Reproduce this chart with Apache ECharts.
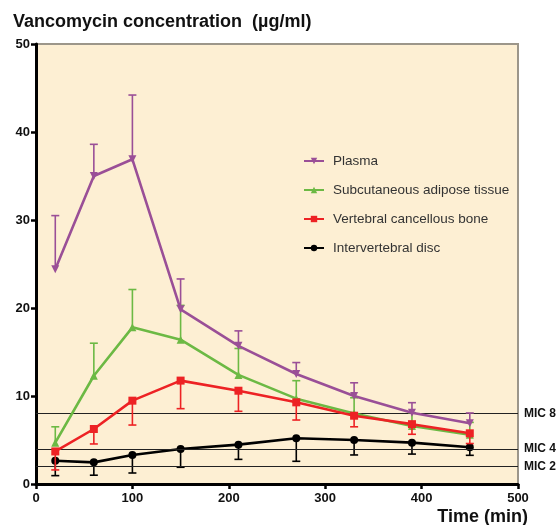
<!DOCTYPE html>
<html>
<head>
<meta charset="utf-8">
<script src="https://cdn.jsdelivr.net/npm/echarts@6/dist/echarts.min.js"></script>
<style>html,body{margin:0;padding:0;background:#fff}#c{width:558px;height:525px}</style>
</head>
<body>
<div id="c"></div>
<script>
const times = [20, 60, 100, 150, 210, 270, 330, 390, 450];
const plasma = [24.4, 35.0, 36.9, 19.85, 15.7, 12.5, 10.0, 8.1, 6.9];
const plasmaErrTop = [30.5, 38.6, 44.2, 23.3, 17.4, 13.8, 11.5, 9.24, 8.07];
const adipose = [4.7, 12.3, 17.8, 16.4, 12.4, 9.7, 8.0, 6.6, 5.6];
const adiposeErrTop = [6.5, 16.0, 22.1, 20.3, 15.4, 11.74, 9.8, 8.1, 7.0];
const bone = [3.7, 6.25, 9.47, 11.75, 10.6, 9.28, 7.76, 6.8, 5.76];
const boneErrBottom = [1.6, 4.55, 6.7, 8.56, 8.26, 7.27, 6.5, 5.65, 4.6];
const disc = [2.65, 2.46, 3.3, 3.98, 4.47, 5.2, 5.0, 4.7, 4.17];
const discErrBottom = [0.95, 1.0, 1.25, 1.9, 2.8, 2.58, 3.3, 3.4, 3.26];
const micValues = [8, 4, 2];
const micLabels = ['MIC 8', 'MIC 4', 'MIC 2'];
const seriesNames = ['Plasma', 'Subcutaneous adipose tissue', 'Vertebral cancellous bone', 'Intervertebral disc'];
const xTicks = [0, 100, 200, 300, 400, 500];
const yTicks = [0, 10, 20, 30, 40, 50];

const FONT = "'Liberation Sans', Arial, sans-serif";
const colors = ['#9a4f97', '#6cb944', '#ed2224', '#000000'];

function pairs(ys) { return times.map((t, i) => [t, ys[i]]); }
function errData(ys, ends) { return times.map((t, i) => [t, ys[i], ends[i]]); }
function errSeries(color, ys, ends, z) {
  return {
    type: 'custom', z: z, silent: true,
    data: errData(ys, ends),
    encode: { x: 0, y: [1, 2] },
    renderItem: function (params, api) {
      const x = api.value(0), a = api.value(1), b = api.value(2);
      const p0 = api.coord([x, a]), p1 = api.coord([x, b]);
      const hw = 4;
      return {
        type: 'group',
        children: [
          { type: 'line', shape: { x1: p0[0], y1: p0[1], x2: p1[0], y2: p1[1] }, style: { stroke: color, lineWidth: 1.6 } },
          { type: 'line', shape: { x1: p1[0] - hw, y1: p1[1], x2: p1[0] + hw, y2: p1[1] }, style: { stroke: color, lineWidth: 1.6 } }
        ]
      };
    }
  };
}
function lineSeries(name, color, ys, symbol, size, rotate, z) {
  return {
    name: name, type: 'line', data: pairs(ys), z: z,
    symbol: symbol, symbolSize: size, symbolRotate: rotate || 0, showSymbol: true,
    lineStyle: { color: color, width: 2.6 },
    itemStyle: { color: color, borderWidth: 0 },
    emphasis: { disabled: true }, animation: false
  };
}

const chart = echarts.init(document.getElementById('c'), null, { renderer: 'canvas' });
const mic = {
  type: 'line', data: [], silent: true, z: 1,
  markLine: {
    silent: true, symbol: ['none', 'none'], animation: false,
    lineStyle: { color: '#222', width: 1, type: 'solid' },
    label: { show: true, position: 'end', distance: 6, fontFamily: FONT, fontWeight: 'bold', fontSize: 12, color: '#111',
      formatter: p => micLabels[micValues.indexOf(p.value)] },
    data: micValues.map(v => ({ yAxis: v }))
  }
};

chart.setOption({
  animation: false,
  backgroundColor: '#ffffff',
  title: {
    text: 'Vancomycin concentration  (µg/ml)', left: 13, top: 13, padding: 0,
    textStyle: { fontFamily: FONT, fontWeight: 'bold', fontSize: 18, color: '#111' }
  },
  grid: { left: 36, right: 40, top: 44, bottom: 41, show: true, backgroundColor: '#fdefd3', borderColor: '#9c968a', borderWidth: 2 },
  legend: {
    orient: 'vertical', left: 298, top: 149, itemWidth: 20, itemHeight: 8, itemGap: 15,
    data: seriesNames,
    textStyle: { fontFamily: FONT, fontSize: 13.5, color: '#333', padding: [0, 0, 0, 4] }
  },
  xAxis: {
    type: 'value', min: 0, max: 500, interval: 100,
    axisLine: { show: true, onZero: false, lineStyle: { color: '#000', width: 3 } },
    axisTick: { show: true, length: 5, lineStyle: { color: '#000', width: 2.5 } },
    axisLabel: { fontFamily: FONT, fontWeight: 'bold', fontSize: 13, color: '#111', margin: 8,
      formatter: v => xTicks.includes(v) ? String(v) : '' },
    splitLine: { show: false }
  },
  yAxis: {
    type: 'value', min: 0, max: 50, interval: 10,
    axisLine: { show: true, onZero: false, lineStyle: { color: '#000', width: 3 } },
    axisTick: { show: true, length: 5, lineStyle: { color: '#000', width: 2.5 } },
    axisLabel: { fontFamily: FONT, fontWeight: 'bold', fontSize: 13, color: '#111', margin: 6,
      formatter: v => yTicks.includes(v) ? String(v) : '' },
    splitLine: { show: false }
  },
  graphic: [{
    type: 'text', x: 528, y: 517, z: 100,
    style: { text: 'Time (min)', align: 'right', verticalAlign: 'middle', font: "bold 18px 'Liberation Sans', Arial, sans-serif", fill: '#111' }
  }],
  series: [
    mic,
    errSeries(colors[3], disc, discErrBottom, 3),
    lineSeries(seriesNames[3], colors[3], disc, 'circle', 8, 0, 4),
    errSeries(colors[1], adipose, adiposeErrTop, 5),
    lineSeries(seriesNames[1], colors[1], adipose, 'triangle', 8, 0, 6),
    errSeries(colors[2], bone, boneErrBottom, 7),
    lineSeries(seriesNames[2], colors[2], bone, 'rect', 8, 0, 8),
    errSeries(colors[0], plasma, plasmaErrTop, 9),
    lineSeries(seriesNames[0], colors[0], plasma, 'triangle', 8, 180, 10)
  ]
});
</script>
</body>
</html>
